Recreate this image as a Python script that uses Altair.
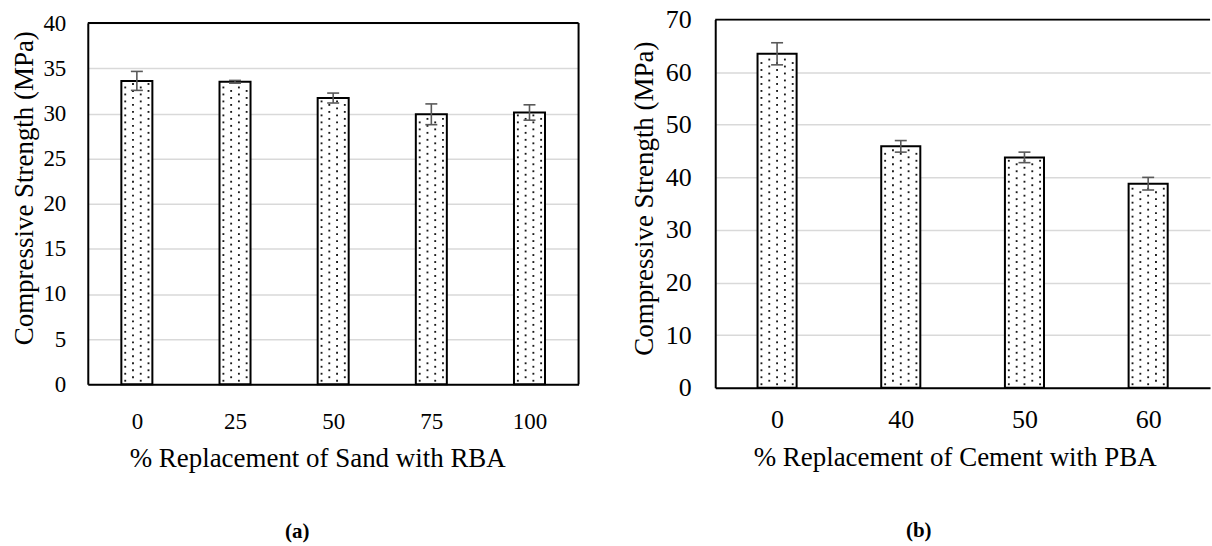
import json
import altair as alt
import pandas as pd

# ---- data ----
a_categories = ["0", "25", "50", "75", "100"]
a_strength = [33.6, 33.5, 31.7, 29.9, 30.1]
a_error = [1.05, 0.15, 0.55, 1.15, 0.85]

b_categories = ["0", "40", "50", "60"]
b_strength = [63.5, 45.9, 43.8, 38.8]
b_error = [2.1, 1.1, 1.0, 1.2]

a_xtitle = "%  Replacement of Sand with RBA"
b_xtitle = "% Replacement of Cement with PBA"
y_title = "Compressive Strength (MPa)"

FONT = "Liberation Serif"
TITLE_FS = 27


def panel(cats, vals, errs, ymax, ystep, width, height, xtitle, caption,
          tick_fs, label_pad_y, label_pad_x, ytitle_x, ytitle_y,
          xtitle_x, xtitle_y, caption_x, caption_y, ncol, row_px, right_border):
    n = len(cats)
    df = pd.DataFrame({"idx": list(range(n)), "cat": cats, "value": vals, "err": errs})
    band_px = width / n
    hw = 0.158
    cap = 6.0 / band_px
    row_step = row_px * ymax / height
    col_step = 2 * hw / ncol

    xscale = alt.Scale(domain=[-0.5, n - 0.5], nice=False, zero=False)
    yscale = alt.Scale(domain=[0, ymax], nice=False, zero=True)
    label_expr = json.dumps(cats) + "[datum.value]"
    xaxis = alt.Axis(values=list(range(n)), labelExpr=label_expr, grid=False,
                     ticks=False, tickSize=0, domain=True, domainColor="black",
                     domainWidth=2, labelFont=FONT, labelFontSize=tick_fs,
                     labelColor="black", labelPadding=label_pad_x,
                     labelBaseline="middle", labelOverlap=False, labelFlush=False,
                     title=xtitle, titleFont=FONT, titleFontSize=TITLE_FS,
                     titleFontWeight="normal", titleColor="black",
                     titleX=xtitle_x, titleY=xtitle_y, titleBaseline="middle",
                     titleAlign="center")
    yaxis = alt.Axis(values=list(range(0, ymax + 1, ystep)), grid=True,
                     gridColor="#d9d9d9", gridWidth=1.5, ticks=False, tickSize=0,
                     domain=True, domainColor="black", domainWidth=2,
                     labelFont=FONT, labelFontSize=tick_fs, labelColor="black",
                     labelPadding=label_pad_y, title=y_title, titleFont=FONT,
                     titleFontSize=TITLE_FS, titleFontWeight="normal", titleColor="black",
                     titleX=ytitle_x, titleY=ytitle_y, titleBaseline="middle",
                     titleAlign="center")

    base = alt.Chart(df)

    bars = base.transform_calculate(
        x0=f"datum.idx - {hw}", x1=f"datum.idx + {hw}"
    ).mark_bar(fill="white", stroke="black", strokeWidth=2).encode(
        x=alt.X("x0:Q", scale=xscale, axis=xaxis),
        x2="x1:Q",
        y=alt.Y("value:Q", scale=yscale, axis=yaxis),
        y2=alt.datum(0),
    )

    dots = base.transform_calculate(
        cols=f"sequence(0, {ncol})"
    ).transform_flatten(["cols"], as_=["col"]).transform_calculate(
        rows=f"sequence(0, ceil(datum.value / {row_step}) + 1)"
    ).transform_flatten(["rows"], as_=["row"]).transform_calculate(
        dy=f"(datum.row + 0.5 + 0.5 * (datum.col % 2)) * {row_step}",
        dx=f"datum.idx - {hw} + (datum.col + 0.5) * {col_step}",
    ).transform_filter(
        f"datum.dy < datum.value - {0.4 * row_step}"
    ).mark_square(size=3.5, color="black", opacity=0.9).encode(
        x=alt.X("dx:Q", scale=xscale, axis=xaxis),
        y=alt.Y("dy:Q", scale=yscale, axis=yaxis),
    )

    err_line = base.transform_calculate(
        lo="datum.value - datum.err", hi="datum.value + datum.err"
    ).mark_rule(color="#595959", strokeWidth=1.6).encode(
        x=alt.X("idx:Q", scale=xscale, axis=xaxis),
        y=alt.Y("lo:Q", scale=yscale, axis=yaxis),
        y2="hi:Q",
    )

    err_caps = base.transform_calculate(
        lo="datum.value - datum.err", hi="datum.value + datum.err",
        cx0=f"datum.idx - {cap}", cx1=f"datum.idx + {cap}",
    ).transform_fold(["lo", "hi"], as_=["end", "ey"]).mark_rule(
        color="#595959", strokeWidth=1.6
    ).encode(
        x=alt.X("cx0:Q", scale=xscale, axis=xaxis),
        x2="cx1:Q",
        y=alt.Y("ey:Q", scale=yscale, axis=yaxis),
    )

    frame_df = pd.DataFrame({"k": [0]})
    top_rule = alt.Chart(frame_df).mark_rule(color="black", strokeWidth=2).encode(
        x=alt.value(0), x2=alt.value(width), y=alt.value(0)
    )
    layers = [bars, dots, err_line, err_caps, top_rule]
    if right_border:
        layers.append(
            alt.Chart(frame_df).mark_rule(color="black", strokeWidth=2).encode(
                x=alt.value(width), y=alt.value(0), y2=alt.value(height)
            )
        )
    cap_df = pd.DataFrame({"t": [caption]})
    layers.append(
        alt.Chart(cap_df).mark_text(font=FONT, fontSize=21, fontWeight="bold",
                                    color="black").encode(
            text="t:N", x=alt.value(caption_x), y=alt.value(caption_y)
        )
    )
    return alt.layer(*layers).properties(width=width, height=height)


left = panel(a_categories, a_strength, a_error, 40, 5, 492, 362, a_xtitle, "(a)",
             23, 22, 37, -63, 165, 230, 74, 210, 510, 4, 7, True)
right = panel(b_categories, b_strength, b_error, 70, 10, 496, 369, b_xtitle, "(b)",
              26, 24, 32, -71, 179, 240, 70, 204, 513, 5, 7, False)

chart = alt.hconcat(left, right, spacing=137, bounds="flush", center=True).configure(
    font=FONT
).configure_axis(
    labelFont=FONT, titleFont=FONT, titleFontWeight="normal", titleColor="black",
    labelColor="black"
).configure_text(font=FONT).configure_view(
    stroke="transparent"
).properties(
    padding={"left": 10, "top": 5, "right": 0, "bottom": 0},
    background="white",
)

chart.save("out.html", embed_options={"renderer": "svg", "actions": False})
